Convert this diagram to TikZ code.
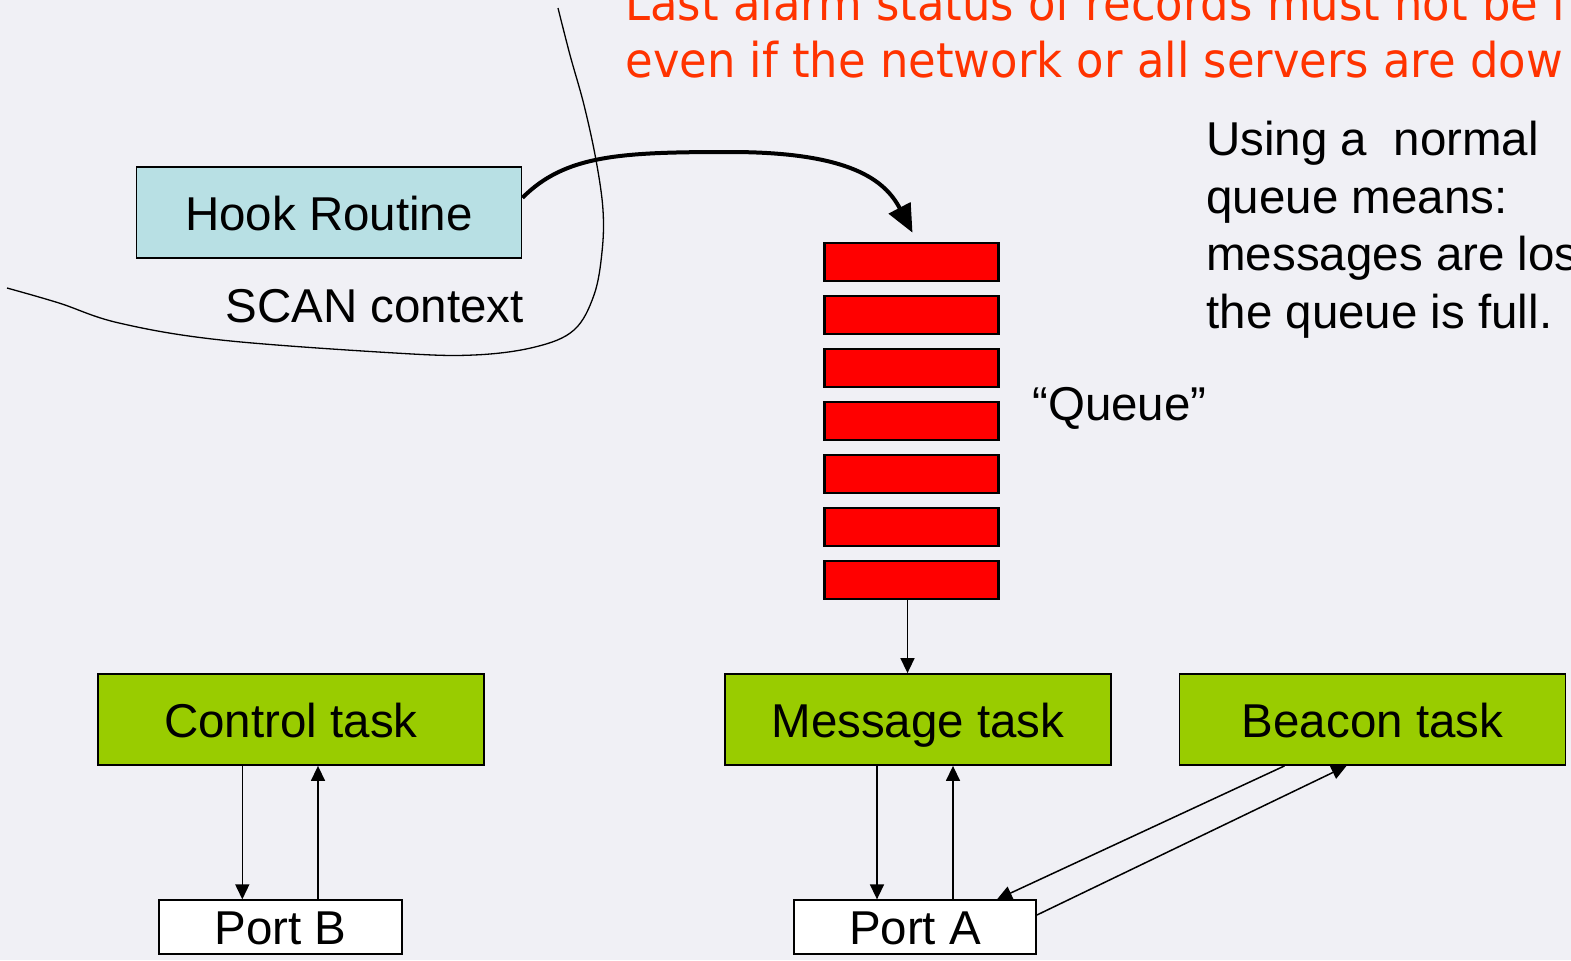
\documentclass[tikz,border=0pt]{standalone}
\usepackage{fontspec}
\setmainfont{Liberation Sans}
\newfontfamily\notefont[FakeStretch=0.935]{DejaVu Sans}
\usetikzlibrary{arrows.meta}

\definecolor{pagebg}{RGB}{240,240,245}
\definecolor{hookcyan}{RGB}{184,224,228}
\definecolor{taskgreen}{RGB}{153,204,0}
\definecolor{noteorange}{RGB}{255,51,0}

\newcommand\diagfont{\fontsize{23.75pt}{28pt}\selectfont}
\newcommand\notesize{\fontsize{24pt}{28pt}\selectfont}

\tikzset{
  framed/.style={draw=black, line width=0.9pt, inner sep=0pt, font=\diagfont,
                 text height=18pt, text depth=0pt},
  taskbox/.style={framed, fill=taskgreen, minimum width=193pt, minimum height=45.5pt},
  hookbox/.style={framed, fill=hookcyan, minimum width=192.5pt, minimum height=45.5pt},
  portbox/.style={framed, fill=white, minimum height=26.75pt, text height=17pt},
  qslot/.style={draw=black, line width=1.1pt, fill=red, inner sep=0pt,
                minimum width=87pt, minimum height=19.25pt},
  link/.style={line width=0.75pt, -{Triangle[length=7.5pt,width=7pt]}},
  bigarrow/.style={line width=2pt, -{Triangle[length=14pt,width=12pt]}},
  caption/.style={inner sep=0pt, anchor=base west, font=\diagfont},
  note/.style={inner sep=0pt, anchor=base west, text=noteorange, font=\notefont\notesize},
}

\begin{document}
\begin{tikzpicture}[x=0.5pt, y=-0.5pt]
  % page
  \path[use as bounding box, fill=pagebg] (0,0) rectangle (1571,960);
  \clip (0,0) rectangle (1571,960);

  % warning note
  \node[note] (note1) at (625,20) {Last alarm status of records must not be l};
  \node[note] (note2) at (625,77) {even if the network or all servers are dow};

  % boundary of the SCAN context
  \draw[line width=0.65pt] plot[smooth, tension=0.6] coordinates {
    (558,8) (570,55) (584,105) (596,160) (603,210) (602,252) (594,295)
    (574,330) (535,347) (474,355) (395,353) (221,340) (119,323) (59,303) (7,288)};

  % hook routine
  \node[hookbox] (hook) at (329,212.8) {Hook Routine};
  \node[caption] (scan) at (225,322) {SCAN context};

  % queue slots
  \foreach \i in {1,...,7}
    \node[qslot] (q\i) at (911.5,{262+53*(\i-1)}) {};
  \node[caption] (qlabel) at (1032,420) {“Queue”};

  % remark on the normal queue
  \node[caption] (rem1) at (1206,155) {Using a\ \ normal};
  \node[caption] (rem2) at (1206,213) {queue means:};
  \node[caption] (rem3) at (1206,270) {messages are los};
  \node[caption] (rem4) at (1206,328) {the queue is full.};

  % tasks
  \node[taskbox] (ctrl) at (291,719.5) {Control task};
  \node[taskbox] (msg) at (918,719.5) {Message task};
  \node[taskbox] (beacon) at (1372.5,719.5) {Beacon task};

  % ports
  \node[portbox, minimum width=121.5pt] (portb) at (280.5,927) {Port B};
  \node[portbox, minimum width=121pt] (porta) at (915,927) {Port A};

  % hook routine feeds the queue
  \draw[bigarrow] ([yshift=7.5pt]hook.east)
    .. controls (565,155) and (620,152) .. (730,152)
    .. controls (850,152) and (885,180) .. ([xshift=0.5pt,yshift=4.5pt]q1.north);

  % queue to message task
  \draw[link] ([xshift=-2pt]q7.south) -- ([xshift=-2pt]q7.south |- msg.north);

  % control task and port B
  \draw[link] ([xshift=-24.35pt]ctrl.south) -- ([xshift=-24.35pt]ctrl.south |- portb.north);
  \draw[link] ([xshift=13.5pt]ctrl.south |- portb.north) -- ([xshift=13.5pt]ctrl.south);

  % message task and port A
  \draw[link] ([xshift=-20.5pt]msg.south) -- ([xshift=-20.5pt]msg.south |- porta.north);
  \draw[link] ([xshift=17.5pt]msg.south |- porta.north) -- ([xshift=17.5pt]msg.south);

  % beacon task and port A
  \draw[link] ([xshift=-44pt]beacon.south) -- ([xshift=41pt]porta.north);
  \draw[link] ([yshift=6pt]porta.east) -- ([xshift=-13pt]beacon.south);
\end{tikzpicture}
\end{document}
